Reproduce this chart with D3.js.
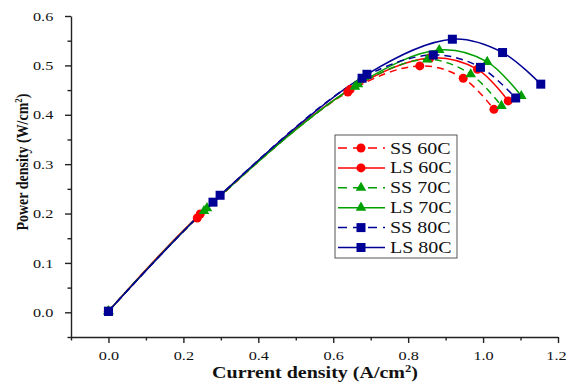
<!DOCTYPE html>
<html>
<head>
<meta charset="utf-8">
<script src="https://cdn.jsdelivr.net/npm/d3@7"></script>
<style>
  body { margin: 0; background: #fff; }
  svg { display: block; }
  text { font-family: "Liberation Serif", "Times New Roman", serif; fill: #111; }
</style>
</head>
<body>
<svg id="chart" width="566" height="390"></svg>
<script>
// series labels, in legend order
const seriesNames = ["SS 60C", "LS 60C", "SS 70C", "LS 70C", "SS 80C", "LS 80C"];

// current density (A/cm2) per series
const currentSS60 = [0, 0.237, 0.639, 0.831, 0.947, 1.029];
const currentLS60 = [0, 0.245, 0.645, 0.858, 0.985, 1.067];
const currentSS70 = [0, 0.255, 0.658, 0.851, 0.967, 1.049];
const currentLS70 = [0, 0.263, 0.666, 0.883, 1.011, 1.102];
const currentSS80 = [0, 0.279, 0.677, 0.867, 0.993, 1.087];
const currentLS80 = [0, 0.298, 0.690, 0.918, 1.052, 1.154];

// power density (W/cm2) per series
const powerSS60 = [0.002, 0.191, 0.446, 0.499, 0.474, 0.411];
const powerLS60 = [0.002, 0.199, 0.451, 0.515, 0.492, 0.428];
const powerSS70 = [0.002, 0.205, 0.457, 0.512, 0.482, 0.418];
const powerLS70 = [0.002, 0.211, 0.462, 0.531, 0.507, 0.438];
const powerSS80 = [0.002, 0.223, 0.474, 0.521, 0.496, 0.434];
const powerLS80 = [0.002, 0.237, 0.482, 0.553, 0.526, 0.462];

const xTicks = [0, 0.2, 0.4, 0.6, 0.8, 1.0, 1.2];
const yTicks = [0, 0.1, 0.2, 0.3, 0.4, 0.5, 0.6];

const currents = [currentSS60, currentLS60, currentSS70, currentLS70, currentSS80, currentLS80];
const powers = [powerSS60, powerLS60, powerSS70, powerLS70, powerSS80, powerLS80];

// styling per series
const colors = ["#ff0000", "#ff0000", "#00a000", "#00a000", "#000096", "#000096"];
const shapes = ["circle", "circle", "triangle", "triangle", "square", "square"];
const dashed = [true, false, true, false, true, false];

const stretch = "scale(1.25,1)";

let svg = d3.select("#chart");

let x = d3.scaleLinear().domain([-0.1, 1.2]).range([71, 558]),
    y = d3.scaleLinear().domain([-0.05, 0.6]).range([337, 16]);

let xMinor = d3.range(-0.1, 1.21, 0.1).filter(v => !xTicks.some(t => Math.abs(t - v) < 1e-6)),
    yMinor = d3.range(-0.05, 0.6, 0.1);

// minor ticks
svg.append("g")
  .attr("transform", `translate(0,${y(-0.05)})`)
  .call(d3.axisBottom(x).tickValues(xMinor).tickSize(3.5).tickFormat(""))
  .call(g => g.select(".domain").remove());

svg.append("g")
  .attr("transform", `translate(${x(-0.1)},0)`)
  .call(d3.axisLeft(y).tickValues(yMinor).tickSize(3.5).tickFormat(""))
  .call(g => g.select(".domain").remove());

// major axes
let xAxis = svg.append("g")
  .attr("transform", `translate(0,${y(-0.05)})`)
  .call(d3.axisBottom(x).tickValues(xTicks).tickSize(6).tickSizeOuter(0).tickPadding(8)
    .tickFormat(d3.format(".1f")));

let yAxis = svg.append("g")
  .attr("transform", `translate(${x(-0.1)},0)`)
  .call(d3.axisLeft(y).tickValues(yTicks).tickSize(6).tickSizeOuter(0).tickPadding(5)
    .tickFormat(d3.format(".1f")));

[xAxis, yAxis].forEach(ax => {
  ax.selectAll("path, line").attr("stroke", "#222").attr("stroke-width", 1.4);
  ax.selectAll("text")
    .attr("font-size", 13)
    .attr("font-family", "Liberation Serif")
    .attr("fill", "#111");
});
xAxis.selectAll("text").attr("transform", d => (d === 1.2 ? "translate(-2,0) " : "") + stretch);
yAxis.selectAll("text").attr("transform", "translate(-4,0) " + stretch);
svg.selectAll(".tick line").attr("stroke", "#222").attr("stroke-width", 1.4);

// axis titles
let xTitle = svg.append("text")
  .attr("transform", `translate(315,378) ${stretch}`)
  .attr("text-anchor", "middle")
  .attr("font-size", 16)
  .attr("font-weight", "bold");
xTitle.append("tspan").text("Current density (A/cm");
xTitle.append("tspan").attr("font-size", 10).attr("dy", -6).text("2");
xTitle.append("tspan").attr("dy", 6).text(")");

let yTitle = svg.append("text")
  .attr("transform", "translate(28,162) scale(1.25,1) rotate(-90)")
  .attr("text-anchor", "middle")
  .attr("font-size", 14)
  .attr("font-weight", "bold");
yTitle.append("tspan").text("Power density (W/cm");
yTitle.append("tspan").attr("font-size", 9).attr("dy", -5).text("2");
yTitle.append("tspan").attr("dy", 5).text(")");

// symbols
function marker(sel, shape, color) {
  if (shape === "circle") {
    sel.append("circle").attr("r", 4.5).attr("fill", color);
  } else if (shape === "triangle") {
    sel.append("path").attr("d", d3.symbol(d3.symbolTriangle, 48)()).attr("fill", color);
  } else {
    sel.append("rect").attr("x", -4.5).attr("y", -4.5).attr("width", 9).attr("height", 9)
      .attr("fill", color);
  }
}

let line = d3.line()
  .x(d => x(d[0]))
  .y(d => y(d[1]))
  .curve(d3.curveCatmullRom.alpha(0.5));

let plot = svg.append("g");

seriesNames.forEach((name, i) => {
  let pts = currents[i].map((c, k) => [c, powers[i][k]]);

  plot.append("path")
    .datum(pts)
    .attr("d", line)
    .attr("fill", "none")
    .attr("stroke", colors[i])
    .attr("stroke-width", 1.5)
    .attr("stroke-dasharray", dashed[i] ? "7,5" : null);
});

seriesNames.forEach((name, i) => {
  currents[i].forEach((c, k) => {
    let g = plot.append("g").attr("transform", `translate(${x(c)},${y(powers[i][k])})`);
    marker(g, shapes[i], colors[i]);
  });
});

// legend
let legend = svg.append("g");
legend.append("rect")
  .attr("x", 335).attr("y", 135)
  .attr("width", 122).attr("height", 123)
  .attr("fill", "#fff")
  .attr("stroke", "#555")
  .attr("stroke-width", 1);

seriesNames.forEach((name, i) => {
  let ly = 148 + i * 19.9;
  legend.append("line")
    .attr("x1", 338).attr("x2", 385)
    .attr("y1", ly).attr("y2", ly)
    .attr("stroke", colors[i])
    .attr("stroke-width", 1.5)
    .attr("stroke-dasharray", dashed[i] ? "9,6" : null);
  let g = legend.append("g").attr("transform", `translate(361,${ly})`);
  marker(g, shapes[i], colors[i]);
  legend.append("text")
    .attr("transform", `translate(390,${ly + 5.5}) ${stretch}`)
    .attr("font-size", 16)
    .text(name);
});
</script>
</body>
</html>
